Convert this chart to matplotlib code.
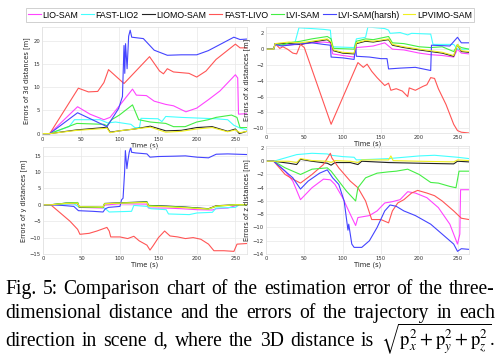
import matplotlib
matplotlib.use("Agg")
import matplotlib.pyplot as plt
import numpy as np

# ---------------- data (time [s], value [m]) ----------------
series_names = ["LIO-SAM", "FAST-LIO2", "LIOMO-SAM", "FAST-LIVO", "LVI-SAM", "LVI-SAM(harsh)", "LPVIMO-SAM"]

# 3D distance errors
d3_lio = [(0,0),(10,0),(46,5.8),(62,4.2),(80,3.0),(88,3.5),(100,6),(117,9.6),(122,8.3),(135,8.2),(145,7),(160,6.3),(170,6.0),(186,4.7),(200,5.5),(215,7.3),(230,9.2),(250,12.7),(253,12.0),(254,4.2),(265,4.3)]
d3_fastlio2 = [(0,0),(10,0),(35,1.5),(42,3.0),(75,3.0),(85,2.3),(95,2.5),(115,2.0),(120,1.3),(126,1.3),(128,3.3),(150,3.2),(155,2.6),(160,3.7),(180,3.5),(210,3.3),(225,3.2),(240,3.0),(248,1.8),(256,1.2),(265,0.8)]
d3_liomo = [(0,0),(10,0),(45,0.8),(80,1.3),(84,1.4),(88,0.3),(100,0.6),(120,1.0),(140,1.6),(160,0.6),(180,0.7),(200,1.3),(220,1.5),(240,0.5),(250,1.0),(255,0.0),(265,0.5)]
d3_fastlivo = [(0,0),(10,0),(47,9.8),(60,9.0),(72,9.1),(80,11),(86,13.8),(106,10.8),(139,16.6),(152,13.5),(157,12.9),(162,14),(170,13.3),(190,13),(200,12.2),(212,13.5),(225,16),(250,19.3),(256,18.5),(265,18.5)]
d3_lvi = [(0,0),(10,0),(45,2.2),(80,2.0),(84,1.7),(90,3.0),(100,4.0),(117,6.2),(125,3.0),(140,2.5),(160,2.2),(170,1.5),(185,1.5),(200,2.5),(215,3.0),(225,3.5),(245,4.0),(252,3.5),(256,1.3),(265,1.3)]
d3_lviharsh = [(0,0),(10,0),(46,4.5),(84,1.5),(99,5.4),(104,8),(106,19),(107,13),(108,19.4),(110,14),(112,21),(114,22.3),(116,20.8),(131,20.5),(145,18),(162,16.9),(180,17),(200,17),(215,17.9),(248,20.8),(256,20.3),(265,20.4)]
d3_lpvimo = [(0,0),(10,0),(45,0.7),(80,1.1),(84,1.2),(88,0.2),(100,0.6),(120,1.0),(140,1.4),(160,0.3),(180,0.5),(200,1.0),(220,1.3),(240,0.4),(250,0.8),(256,0.2),(265,0.5)]

# x errors
x_lio = [(0,0),(10,0),(12,0.7),(20,0.5),(45,0.6),(60,0.8),(75,0.9),(84,0.8),(87,-0.6),(100,-0.8),(115,-1.0),(118,0.2),(130,0.3),(140,0.4),(155,0.8),(165,0.0),(180,-0.1),(200,-0.5),(215,-0.7),(230,-0.8),(245,-1.0),(250,0.0),(255,-0.5),(265,-0.6)]
x_fastlio2 = [(0,0),(10,0),(12,0.7),(20,0.5),(30,0.8),(38,0.9),(43,2.7),(60,2.6),(75,2.5),(84,2.4),(86,0.3),(115,0.2),(118,1.3),(130,1.5),(133,2.8),(155,2.6),(160,2.4),(162,2.0),(175,2.1),(185,1.8),(190,2.0),(215,1.9),(218,0.6),(245,0.6),(250,0.0),(265,0.0)]
x_liomo = [(0,0),(10,0),(12,0.7),(30,0.7),(45,0.6),(60,0.9),(80,1.2),(85,0.8),(88,-0.2),(100,-0.5),(115,-0.6),(118,0.7),(130,1.0),(140,0.9),(160,1.2),(165,0.5),(180,0.2),(200,-0.1),(215,-0.3),(230,-0.5),(245,-0.9),(250,0.6),(255,-0.3),(265,-0.4)]
x_fastlivo = [(0,0),(10,0),(12,0.7),(18,0.1),(22,0.3),(28,0.0),(35,-0.5),(40,-0.6),(45,0.6),(50,0.2),(85,-9.5),(120,-1.7),(127,-2.3),(132,-1.9),(138,-2.8),(145,-3.6),(155,-4.6),(160,-4.3),(163,-5.2),(170,-5.0),(178,-5.3),(185,-6.0),(187,-4.9),(195,-5.2),(205,-4.7),(210,-4.5),(215,-3.6),(220,-3.7),(225,-5.0),(235,-7.0),(245,-9.5),(250,-10.3),(255,-10.5),(265,-10.6)]
x_lvi = [(0,0),(10,0),(12,0.7),(20,0.5),(30,0.8),(45,1.0),(60,1.3),(80,1.6),(85,1.3),(88,0.1),(115,0.0),(118,1.0),(130,1.3),(140,1.2),(160,1.6),(165,0.8),(180,0.7),(200,0.3),(215,0.2),(230,0.3),(245,-0.3),(250,0.5),(255,0.2),(265,0.0)]
x_lviharsh = [(0,0),(10,0),(12,0.6),(20,0.4),(30,0.5),(45,0.7),(60,0.8),(75,0.6),(84,0.5),(85,-1.0),(100,-1.1),(115,-1.3),(117,0.5),(118,-0.9),(135,-1.0),(150,-1.2),(158,-1.2),(160,-2.5),(175,-2.4),(195,-2.3),(215,-2.7),(216,0.5),(240,0.4),(250,1.5),(255,0.8),(265,0.8)]
x_lpvimo = [(0,0),(10,0),(12,0.7),(30,0.9),(45,0.8),(60,1.0),(80,1.3),(85,0.9),(88,-0.1),(100,-0.4),(115,-0.5),(118,0.8),(130,1.1),(140,1.0),(160,1.3),(165,0.6),(180,0.3),(200,0.0),(215,-0.2),(230,-0.4),(245,-0.8),(250,0.6),(255,-0.2),(265,-0.3)]

# y errors
y_lio = [(0,0),(10,0),(30,0.2),(45,0.3),(47,-0.8),(78,-1.0),(80,-0.1),(100,0.3),(135,0.2),(137,-1.0),(160,-1.0),(180,-1.2),(200,-1.5),(220,-1.6),(225,-1.2),(240,-1.0),(250,-0.3),(254,-0.2)]
y_fastlio2 = [(0,0),(10,0),(40,0.3),(46,-0.6),(75,-0.8),(80,-1.0),(86,-2.2),(115,-2.0),(118,-0.2),(135,-0.5),(140,-1.2),(160,-1.5),(163,-2.8),(190,-3.0),(200,-2.5),(220,-2.3),(225,-1.0),(250,-0.8),(253,-0.3)]
y_liomo = [(0,0),(10,0),(30,0.5),(45,0.6),(47,-0.7),(78,-0.8),(80,0.4),(100,0.6),(135,0.9),(137,-0.2),(160,-0.4),(185,-0.7),(215,-1.2),(225,-0.3),(250,0.0),(265,0.0)]
y_fastlivo = [(0,0),(10,0),(20,-2),(35,-5),(45,-7.5),(48,-9.0),(60,-8.7),(70,-8.0),(83,-6.9),(86,-8.0),(88,-9.8),(100,-9.8),(110,-10.3),(118,-9.6),(125,-11),(135,-12.3),(139,-13.8),(143,-12.5),(150,-10),(158,-8.0),(165,-9.5),(175,-9.8),(185,-10.3),(195,-10.0),(205,-10.5),(215,-12),(222,-14),(235,-14),(248,-14.2),(252,-12),(265,-11.8)]
y_lvi = [(0,0),(10,0),(30,0.5),(45,0.7),(47,-0.6),(78,-0.8),(80,0.3),(100,0.5),(135,0.8),(137,-0.3),(160,-0.5),(185,-0.8),(215,-1.3),(225,-0.5),(250,0.0),(265,0.0)]
y_lviharsh = [(0,0),(10,0),(25,-0.2),(40,-0.5),(46,-1.8),(65,-2.0),(78,-2.2),(81,-1.2),(85,-0.8),(100,-0.5),(102,1.5),(104,2.0),(106,10),(107,16.5),(109,11),(110,13),(112,16),(114,17.5),(115,16),(120,15.8),(135,15.5),(139,14.5),(150,14.7),(170,14.8),(185,14.9),(200,14.5),(215,14.3),(225,15.4),(240,15.5),(265,15.3)]
y_lpvimo = [(0,0),(10,0),(30,0.4),(45,0.5),(47,-0.6),(78,-0.7),(80,0.3),(100,0.5),(135,0.7),(137,-0.4),(160,-0.6),(185,-0.9),(215,-1.3),(225,-0.4),(250,0.0),(265,0.0)]

# z errors
z_lio = [(0,0),(10,0),(25,-1.5),(35,-3.0),(45,-5.8),(60,-4.0),(75,-2.7),(84,-2.8),(90,-3.5),(100,-5.5),(110,-8.0),(117,-9.7),(120,-8.5),(135,-8.2),(145,-7.5),(155,-6.3),(165,-6.1),(175,-5.8),(185,-4.6),(195,-4.8),(210,-5.5),(225,-7.0),(240,-9.5),(250,-12.5),(253,-11.0),(254,-4.3),(265,-4.3)]
z_fastlio2 = [(0,0),(10,0),(25,0.5),(40,1.0),(60,1.2),(80,1.1),(85,0.9),(100,0.7),(115,0.6),(118,0.2),(140,0.3),(160,0.4),(180,0.6),(200,0.8),(220,0.9),(240,0.7),(250,0.6),(265,0.4)]
z_liomo = [(0,0),(10,0),(30,-0.3),(40,-0.5),(45,0.3),(60,0.0),(80,-0.3),(85,-0.6),(90,-0.2),(110,-0.2),(120,-0.5),(125,0.0),(160,-0.2),(200,-0.3),(245,-0.4),(250,0.0),(265,-0.1)]
z_fastlivo = [(0,0),(10,0),(25,-2.0),(35,-2.7),(45,-3.3),(60,-2.0),(75,-0.5),(84,1.2),(86,0.5),(95,-1.0),(110,-3.0),(120,-4.0),(130,-6.0),(138,-8.8),(150,-8.8),(160,-9.3),(165,-7.5),(172,-6.3),(180,-5.8),(190,-4.8),(198,-4.4),(210,-4.8),(220,-5.2),(230,-6.0),(245,-7.5),(255,-8.6),(265,-8.8)]
z_lvi = [(0,0),(10,0),(25,-1.0),(45,-2.0),(60,-1.2),(80,-1.0),(85,-1.5),(95,-3.0),(105,-4.5),(117,-6.0),(120,-4.0),(130,-2.5),(145,-1.8),(160,-1.6),(170,-1.5),(185,-1.2),(200,-2.0),(215,-3.2),(225,-3.3),(240,-3.8),(248,-4.0),(252,-1.5),(265,-1.5)]
z_lviharsh = [(0,0),(10,0),(25,-1.5),(35,-2.5),(45,-4.2),(55,-3.0),(70,-1.8),(80,-1.3),(87,-2.5),(95,-3.5),(102,-6.0),(107,-10.4),(108,-9.5),(112,-12.5),(115,-13.0),(125,-13.0),(135,-12.0),(145,-10.0),(155,-7.5),(162,-6.6),(170,-6.8),(180,-7.5),(195,-8.2),(215,-9.5),(230,-11.0),(245,-12.5),(250,-13.6),(255,-13.2),(265,-13.3)]
z_lpvimo = [(0,0),(10,0),(30,0.0),(40,-0.2),(45,0.4),(60,0.1),(80,0.0),(85,-0.2),(90,0.1),(110,0.0),(120,-0.2),(125,0.2),(160,0.2),(163,0.8),(166,0.1),(200,0.0),(245,-0.1),(250,0.2),(265,0.1)]

caption_lines = [
    "Fig. 5: Comparison chart of the estimation error of the three-",
    "dimensional distance and the errors of the trajectory in each",
    r"direction in scene d, where the 3D distance is $\sqrt{\mathrm{p}_x^2+\mathrm{p}_y^2+\mathrm{p}_z^2}$.",
]

# ---------------- style ----------------
colors = ["#ff44ff", "#44ffff", "#222222", "#ff5555", "#44ee44", "#4444ff", "#f0f020"]
W, H = 502, 361
fig = plt.figure(figsize=(W / 100, H / 100), dpi=100)
plt.rcParams['mathtext.fontset'] = 'stix'

panels = [
    ([d3_lio, d3_fastlio2, d3_liomo, d3_fastlivo, d3_lvi, d3_lviharsh, d3_lpvimo],
     (42, 27, 247, 135), (-0.3, 23), [0, 5, 10, 15, 20], "Errors of 3d distances [m]"),
    ([x_lio, x_fastlio2, x_liomo, x_fastlivo, x_lvi, x_lviharsh, x_lpvimo],
     (266, 27, 469, 133), (-10.6, 2.8), [-10, -8, -6, -4, -2, 0, 2], "Errors of x distances [m]"),
    ([y_lio, y_fastlio2, y_liomo, y_fastlivo, y_lvi, y_lviharsh, y_lpvimo],
     (43, 147, 247, 254), (-15, 17.6), [-15, -10, -5, 0, 5, 10, 15], "Errors of y distances [m]"),
    ([z_lio, z_fastlio2, z_liomo, z_fastlivo, z_lvi, z_lviharsh, z_lpvimo],
     (266, 146, 469, 254), (-14, 2.3), [-14, -12, -10, -8, -6, -4, -2, 0, 2], "Errors of z distances [m]"),
]

handles = None
for data, (x0, y0, x1, y1), ylim, yticks, ylabel in panels:
    ax = fig.add_axes([x0 / W, 1 - y1 / H, (x1 - x0) / W, (y1 - y0) / H])
    ax.set_facecolor("none")
    hs = []
    for pts, c, name in zip(data, colors, series_names):
        t = [p[0] for p in pts]
        v = [p[1] for p in pts]
        h, = ax.plot(t, v, color=c, lw=0.8, label=name)
        hs.append(h)
    if handles is None:
        handles = hs
    ax.set_xlim(0, 265)
    ax.set_ylim(*ylim)
    ax.set_xticks([0, 50, 100, 150, 200, 250])
    ax.set_yticks(yticks)
    ax.grid(True, color="#e8e8e8", lw=0.5)
    ax.tick_params(labelsize=3.8, length=0, pad=1.5, colors="#333333")
    for s in ax.spines.values():
        s.set_color("#e0e0e0")
        s.set_linewidth(0.5)
    ax.set_xlabel("Time (s)", fontsize=4.8, labelpad=0.5, color="#222222")
    ax.set_ylabel(ylabel, fontsize=4.8, labelpad=2, color="#222222")

leg = fig.legend(handles, series_names, ncol=7, loc="center",
                 bbox_to_anchor=(250 / W, 1 - 15 / H),
                 prop={"family": "Liberation Sans", "size": 6.3},
                 frameon=True, fancybox=False, edgecolor="#bbbbbb",
                 handlelength=1.45, handletextpad=0.2, columnspacing=0.35,
                 borderpad=0.25, borderaxespad=0)
leg.get_frame().set_linewidth(0.6)

# ---------------- justified caption ----------------
renderer = fig.canvas.get_renderer()
left_px, right_px = 5, 495
baselines = [294, 318, 346]
cap_size = 14.1
for line, yb in zip(caption_lines, baselines):
    if "$" in line:
        pre, math = line.split("$", 1)
        words = pre.split() + ["$" + math]
    else:
        words = line.split()
    texts = []
    widths = []
    for w in words:
        size = 13.4 if w.startswith("$") else cap_size
        t = fig.text(0, 0, w, family="Liberation Serif", size=size, color="black",
                     va="baseline", ha="left")
        bb = t.get_window_extent(renderer)
        widths.append(bb.width)
        texts.append(t)
    gap = (right_px - left_px - sum(widths)) / (len(words) - 1)
    x = left_px
    for t, wd in zip(texts, widths):
        t.set_position((x / W, 1 - yb / H))
        x += wd + gap

fig.savefig("out.png", dpi=100)
